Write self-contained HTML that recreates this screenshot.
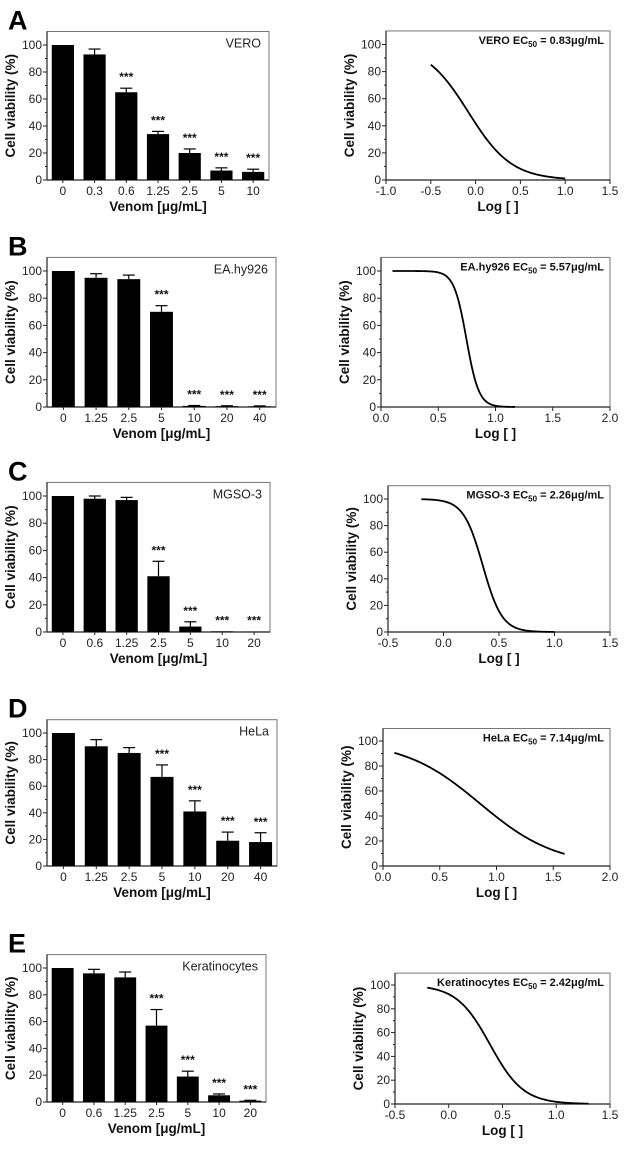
<!DOCTYPE html>
<html><head><meta charset="utf-8"><style>
html,body{margin:0;padding:0;background:#fff;width:627px;height:1149px;overflow:hidden}
svg{display:block;font-family:"Liberation Sans",Arial,sans-serif}
</style></head><body>
<svg id="fig" width="627" height="1149" viewBox="0 0 627 1149" xmlns="http://www.w3.org/2000/svg"></svg>
<script>
// ---- data ----
const panelLetters = ["A","B","C","D","E"];
const cellLines = ["VERO","EA.hy926","MGSO-3","HeLa","Keratinocytes"];
const ec50Labels = ["0.83","5.57","2.26","7.14","2.42"];
const catsA = ["0","0.3","0.6","1.25","2.5","5","10"];
const catsB = ["0","1.25","2.5","5","10","20","40"];
const catsC = ["0","0.6","1.25","2.5","5","10","20"];
const catsD = ["0","1.25","2.5","5","10","20","40"];
const catsE = ["0","0.6","1.25","2.5","5","10","20"];
const valsA = [100,93,65,34,20,7,6];
const valsB = [100,95,94,70,0.8,0.6,0.5];
const valsC = [100,98,97,41,4,0.5,0.2];
const valsD = [100,90,85,67,41,19,18];
const valsE = [100,96,93,57,19,5,1];
const errA = [0,4,3,2,3,2,2];
const errB = [0,3,3,4.5,0.3,0.3,0.3];
const errC = [0,2,2,11,3.5,0,0];
const errD = [0,5,4,9,8,6.5,7];
const errE = [0,3,4,12,4,1,0.3];
const starFromA = 2, starFromB = 3, starFromC = 3, starFromD = 3, starFromE = 3;
const yTicks = [0,20,40,60,80,100];
const logEC50 = [-0.08,0.746,0.354,0.854,0.384];
const hill = [1.8,8,5,1.3,2.8];
const curveStart = [-0.5,0.1,-0.2,0.1,-0.2];
const curveEnd = [1.0,1.17,1.0,1.6,1.3];
const xTicksA = [-1.0,-0.5,0.0,0.5,1.0,1.5];
const xTicksB = [0.0,0.5,1.0,1.5,2.0];
const xTicksC = [-0.5,0.0,0.5,1.0,1.5];
const xTicksD = [0.0,0.5,1.0,1.5,2.0];
const xTicksE = [-0.5,0.0,0.5,1.0,1.5];

// ---- layout ----
const layout = [
 {lx0:47,lx1:269,ly0:180,ly100:45,rx0:386,rx1:610,ry0:180,ry100:44.5},
 {lx0:47,lx1:276,ly0:407,ly100:271,rx0:381,rx1:610,ry0:407,ry100:271},
 {lx0:47,lx1:270,ly0:632,ly100:496,rx0:388,rx1:610,ry0:632,ry100:499},
 {lx0:47,lx1:277,ly0:866,ly100:733,rx0:383,rx1:610,ry0:866,ry100:741},
 {lx0:47,lx1:266,ly0:1102,ly100:968,rx0:395,rx1:610,ry0:1104,ry100:985}
];
const cats=[catsA,catsB,catsC,catsD,catsE];
const vals=[valsA,valsB,valsC,valsD,valsE];
const errs=[errA,errB,errC,errD,errE];
const starFrom=[starFromA,starFromB,starFromC,starFromD,starFromE];
const xTicks=[xTicksA,xTicksB,xTicksC,xTicksD,xTicksE];

const NS="http://www.w3.org/2000/svg";
const svg=document.getElementById('fig');
function mk(tag,attrs,parent,text){const e=document.createElementNS(NS,tag);for(const k in attrs)e.setAttribute(k,attrs[k]);if(text!==undefined)e.textContent=text;(parent||svg).appendChild(e);return e;}

function yAxis(g,x0,x1,y0,y100,name){
  const yS=v=>y0-(y0-y100)*v/100;
  const top=yS(110);
  const box=mk('rect',{x:x0,y:top,width:x1-x0,height:y0-top,fill:'none',stroke:'#777','stroke-width':1},g);
  
  
  mk('line',{x1:x0,y1:top,x2:x0,y2:y0,stroke:'#222','stroke-width':1.2},g);
  mk('line',{x1:x0,y1:y0,x2:x1,y2:y0,stroke:'#222','stroke-width':1.2},g);
  for(let v=0;v<=100;v+=10){mk('line',{x1:x0-(v%20?2:4),y1:yS(v),x2:x0,y2:yS(v),stroke:'#222'},g);}
  yTicks.forEach(v=>{const t=mk('text',{x:x0-5,y:yS(v)+4,'text-anchor':'end','font-size':12,fill:'#222'},g,String(v));
    
    });
  const yt=mk('text',{x:0,y:0,transform:`translate(${x0-32},${(top+y0)/2}) rotate(-90)`,'text-anchor':'middle','font-size':13.5,'font-weight':'bold',fill:'#111'},g,'Cell viability (%)');
  
  
  return {yS,top};
}

for(let p=0;p<5;p++){
  const L=layout[p];
  const g=mk('g',{});
  
  
  const top=L.ly0-(L.ly0-L.ly100)*1.1;
  const letter=mk('text',{x:8,y:top-2,'font-size':27,'font-weight':'bold',fill:'#000'},g,panelLetters[p]);
  
  

  // bar chart
  const bg=mk('g',{},g);
  
  
  const ax=yAxis(bg,L.lx0,L.lx1,L.ly0,L.ly100,'bar-chart');
  const n=cats[p].length, slot=(L.lx1-L.lx0)/n, bw=slot*0.7;
  for(let i=0;i<n;i++){
    const cx=L.lx0+slot*(i+0.5), v=vals[p][i], e=errs[p][i];
    const r=mk('rect',{x:cx-bw/2,y:ax.yS(v),width:bw,height:L.ly0-ax.yS(v),fill:'#000'},bg);
    
    
    if(e>0.2){const ye=ax.yS(v+e);
      mk('line',{x1:cx,y1:ax.yS(v),x2:cx,y2:ye,stroke:'#000','stroke-width':1.2},bg);
      mk('line',{x1:cx-6,y1:ye,x2:cx+6,y2:ye,stroke:'#000','stroke-width':1.2},bg);}
    mk('line',{x1:cx,y1:L.ly0,x2:cx,y2:L.ly0+3,stroke:'#222'},bg);
    const tl=mk('text',{x:cx,y:L.ly0+15,'text-anchor':'middle','font-size':12,fill:'#222'},bg,cats[p][i]);
    
    
    if(i>=starFrom[p]){const s=mk('text',{x:cx,y:ax.yS(v+e)-7,'text-anchor':'middle','font-size':12,'font-weight':'bold',fill:'#111'},bg,'***');
      
      }
  }
  const cl=mk('text',{x:L.lx1-8,y:ax.top+16,'text-anchor':'end','font-size':12.5,fill:'#222'},bg,cellLines[p]);
  
  
  const xt=mk('text',{x:(L.lx0+L.lx1)/2,y:L.ly0+31,'text-anchor':'middle','font-size':13.5,'font-weight':'bold',fill:'#111'},bg,'Venom [μg/mL]');
  
  

  // curve chart
  const cg=mk('g',{},g);
  
  
  const ax2=yAxis(cg,L.rx0,L.rx1,L.ry0,L.ry100,'dose-response');
  const xt0=xTicks[p][0], xt1=xTicks[p][xTicks[p].length-1];
  const xS=v=>L.rx0+(L.rx1-L.rx0)*(v-xt0)/(xt1-xt0);
  xTicks[p].forEach(v=>{mk('line',{x1:xS(v),y1:L.ry0,x2:xS(v),y2:L.ry0+4,stroke:'#222'},cg);
    const t=mk('text',{x:xS(v),y:L.ry0+15,'text-anchor':'middle','font-size':12,fill:'#222'},cg,v.toFixed(1));
    
    });
  let d='';
  for(let k=0;k<=120;k++){const x=curveStart[p]+(curveEnd[p]-curveStart[p])*k/120;
    const y=100/(1+Math.pow(10,(x-logEC50[p])*hill[p]));
    d+=(k?'L':'M')+xS(x).toFixed(2)+','+ax2.yS(y).toFixed(2);}
  const path=mk('path',{d:d,fill:'none',stroke:'#000','stroke-width':1.8},cg);
  
  
  const ann=mk('text',{x:L.rx1-6,y:ax2.top+13,'text-anchor':'end','font-size':11,'font-weight':'bold',fill:'#111'},cg);
  
  
  mk('tspan',{},ann,cellLines[p]+' EC');
  mk('tspan',{'font-size':8,dy:3},ann,'50');
  mk('tspan',{dy:-3},ann,' = '+ec50Labels[p]+'μg/mL');
  const xt2=mk('text',{x:(L.rx0+L.rx1)/2,y:L.ry0+31,'text-anchor':'middle','font-size':13.5,'font-weight':'bold',fill:'#111'},cg,'Log [ ]');
  
  
}
</script>
</body></html>
